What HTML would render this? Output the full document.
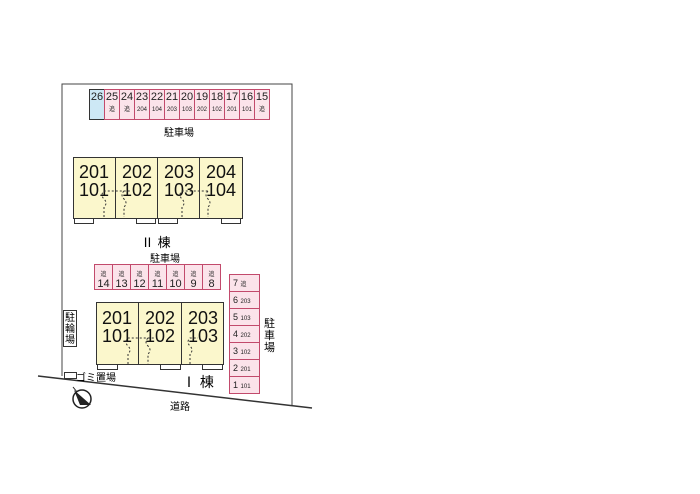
<!DOCTYPE html><html><head><meta charset="utf-8"><style>
body{margin:0;width:700px;height:494px;background:#fff;overflow:hidden;font-family:"Liberation Sans","Noto Sans CJK JP",sans-serif}
.a{position:absolute}
.pc{position:absolute;background:#fbe3ea;border:1px solid #c24a6c;box-sizing:border-box;text-align:center;color:#222;line-height:1}
.b{position:absolute;background:#fbf7cc;border:1px solid #333;box-sizing:border-box}
.t{position:absolute;font-size:18px;line-height:18px;color:#111;text-align:center}
.w{position:absolute;background:#fff;border:1px solid #333;height:6px;box-sizing:border-box}
</style></head><body>
<svg class="a" style="left:0;top:0" width="700" height="494">
<polyline points="62,376 62,84 292,84 292,405" fill="none" stroke="#444" stroke-width="1"/>
<polygon points="38,376 312,408 312,494 38,494" fill="#fff"/>
<line x1="38" y1="376" x2="312" y2="408" stroke="#333" stroke-width="1.5"/>
<circle cx="82" cy="399" r="9" fill="#fff" stroke="#222" stroke-width="1.5"/>
<polygon points="74,390 91,405 80,405" fill="#222"/>
<line x1="73" y1="387" x2="77" y2="392" stroke="#222"/>
</svg>
<div class="pc" style="left:89px;top:89px;width:16px;height:31px;background:#cde8f5;border-color:#333;font-size:11px;padding-top:2px">26</div>
<div class="a" style="left:104px;top:89px">
<div class="pc" style="left:0;top:0;width:16px;height:31px;font-size:11px;padding-top:2px">25<br><span style="font-size:6px">追</span></div>
<div class="pc" style="left:15px;top:0;width:16px;height:31px;font-size:11px;padding-top:2px">24<br><span style="font-size:6px">追</span></div>
<div class="pc" style="left:30px;top:0;width:16px;height:31px;font-size:11px;padding-top:2px">23<br><span style="font-size:6px">204</span></div>
<div class="pc" style="left:45px;top:0;width:16px;height:31px;font-size:11px;padding-top:2px">22<br><span style="font-size:6px">104</span></div>
<div class="pc" style="left:60px;top:0;width:16px;height:31px;font-size:11px;padding-top:2px">21<br><span style="font-size:6px">203</span></div>
<div class="pc" style="left:75px;top:0;width:16px;height:31px;font-size:11px;padding-top:2px">20<br><span style="font-size:6px">103</span></div>
<div class="pc" style="left:90px;top:0;width:16px;height:31px;font-size:11px;padding-top:2px">19<br><span style="font-size:6px">202</span></div>
<div class="pc" style="left:105px;top:0;width:16px;height:31px;font-size:11px;padding-top:2px">18<br><span style="font-size:6px">102</span></div>
<div class="pc" style="left:120px;top:0;width:16px;height:31px;font-size:11px;padding-top:2px">17<br><span style="font-size:6px">201</span></div>
<div class="pc" style="left:135px;top:0;width:16px;height:31px;font-size:11px;padding-top:2px">16<br><span style="font-size:6px">101</span></div>
<div class="pc" style="left:150px;top:0;width:16px;height:31px;font-size:11px;padding-top:2px">15<br><span style="font-size:6px">追</span></div>
</div>
<div class="a" style="left:164px;top:124px;font-size:10px">駐車場</div>
<div class="b" style="left:73px;top:157px;width:170px;height:62px"></div>
<div class="a" style="left:115px;top:157px;width:1px;height:62px;background:#333"></div>
<div class="a" style="left:157px;top:157px;width:1px;height:62px;background:#333"></div>
<div class="a" style="left:199px;top:157px;width:1px;height:62px;background:#333"></div>
<div class="t" style="left:73px;top:163px;width:42px">201<br>101</div>
<div class="t" style="left:116px;top:163px;width:42px">202<br>102</div>
<div class="t" style="left:158px;top:163px;width:42px">203<br>103</div>
<div class="t" style="left:200px;top:163px;width:42px">204<br>104</div>
<div class="w" style="left:74px;top:218px;width:20px"></div>
<div class="w" style="left:136px;top:218px;width:20px"></div>
<div class="w" style="left:158px;top:218px;width:20px"></div>
<div class="w" style="left:221px;top:218px;width:20px"></div>
<div class="a" style="left:141px;top:232px;font-size:13px">Ⅱ 棟</div>
<div class="a" style="left:150px;top:250px;font-size:10px">駐車場</div>
<div class="a" style="left:94px;top:264px">
<div class="pc" style="left:0;top:0;width:19px;height:26px;font-size:11px;padding-top:3px"><span style="font-size:6px">追</span><br>14</div>
<div class="pc" style="left:18px;top:0;width:19px;height:26px;font-size:11px;padding-top:3px"><span style="font-size:6px">追</span><br>13</div>
<div class="pc" style="left:36px;top:0;width:19px;height:26px;font-size:11px;padding-top:3px"><span style="font-size:6px">追</span><br>12</div>
<div class="pc" style="left:54px;top:0;width:19px;height:26px;font-size:11px;padding-top:3px"><span style="font-size:6px">追</span><br>11</div>
<div class="pc" style="left:72px;top:0;width:19px;height:26px;font-size:11px;padding-top:3px"><span style="font-size:6px">追</span><br>10</div>
<div class="pc" style="left:90px;top:0;width:19px;height:26px;font-size:11px;padding-top:3px"><span style="font-size:6px">追</span><br>9</div>
<div class="pc" style="left:108px;top:0;width:19px;height:26px;font-size:11px;padding-top:3px"><span style="font-size:6px">追</span><br>8</div>
</div>
<div class="b" style="left:96px;top:302px;width:128px;height:63px"></div>
<div class="a" style="left:138px;top:302px;width:1px;height:63px;background:#333"></div>
<div class="a" style="left:181px;top:302px;width:1px;height:63px;background:#333"></div>
<div class="t" style="left:96px;top:309px;width:42px">201<br>101</div>
<div class="t" style="left:139px;top:309px;width:42px">202<br>102</div>
<div class="t" style="left:182px;top:309px;width:42px">203<br>103</div>
<div class="w" style="left:97px;top:364px;width:21px"></div>
<div class="w" style="left:160px;top:364px;width:21px"></div>
<div class="w" style="left:202px;top:364px;width:21px"></div>
<div class="a" style="left:182px;top:372px;font-size:14px">Ⅰ 棟</div>
<div class="a" style="left:229px;top:274px">
<div class="pc" style="left:0;top:0;width:31px;height:18px;font-size:9px;text-align:left;padding:4px 0 0 3px">7 <span style="font-size:6px">追</span></div>
<div class="pc" style="left:0;top:17px;width:31px;height:18px;font-size:9px;text-align:left;padding:4px 0 0 3px">6 <span style="font-size:6px">203</span></div>
<div class="pc" style="left:0;top:34px;width:31px;height:18px;font-size:9px;text-align:left;padding:4px 0 0 3px">5 <span style="font-size:6px">103</span></div>
<div class="pc" style="left:0;top:51px;width:31px;height:18px;font-size:9px;text-align:left;padding:4px 0 0 3px">4 <span style="font-size:6px">202</span></div>
<div class="pc" style="left:0;top:68px;width:31px;height:18px;font-size:9px;text-align:left;padding:4px 0 0 3px">3 <span style="font-size:6px">102</span></div>
<div class="pc" style="left:0;top:85px;width:31px;height:18px;font-size:9px;text-align:left;padding:4px 0 0 3px">2 <span style="font-size:6px">201</span></div>
<div class="pc" style="left:0;top:102px;width:31px;height:18px;font-size:9px;text-align:left;padding:4px 0 0 3px">1 <span style="font-size:6px">101</span></div>
</div>
<div class="a" style="left:264px;top:318px;width:12px;font-size:11px;line-height:12px">駐車場</div>
<div class="a" style="left:63px;top:310px;width:14px;height:37px;border:1px solid #333;box-sizing:border-box;font-size:10px;line-height:11px;text-align:center;padding-top:2px;background:#fff">駐輪場</div>
<div class="a" style="left:64px;top:372px;width:11px;height:5px;border:1px solid #333"></div>
<div class="a" style="left:76px;top:369px;font-size:10px">ゴミ置場</div>
<div class="a" style="left:170px;top:398px;font-size:10px">道路</div>
<svg class="a" style="left:0;top:0" width="700" height="494">
<g stroke="#333" stroke-dasharray="2,2" fill="none">
<path d="M104,217 V207 q4,-4 0,-8 q-4,-4 0,-8 H130 M124,191 q-4,4 0,8 q4,4 0,8 V217"/>
<path d="M182,217 V207 q4,-4 0,-8 q-4,-4 0,-8 H208 M208,191 q-4,4 0,8 q4,4 0,8 V217"/>
<path d="M128,364 V354 q4,-4 0,-8 q-4,-4 0,-8 H154 M148,338 q-4,4 0,8 q4,4 0,8 V364"/>
<path d="M190,364 V354 q4,-4 0,-8 q-4,-4 0,-8 H198"/>
</g>
</svg>
</body></html>
